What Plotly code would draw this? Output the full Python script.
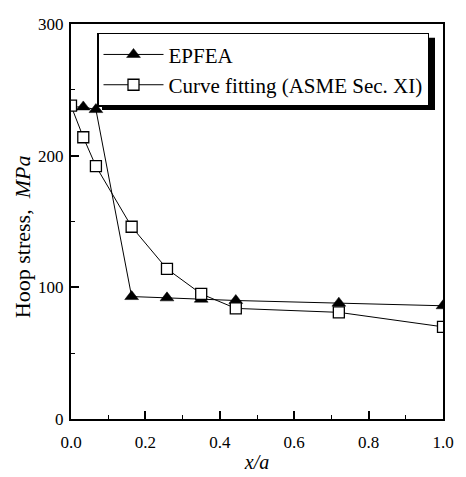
import plotly.graph_objects as go

# data
x_over_a = [0.0, 0.033, 0.067, 0.163, 0.258, 0.35, 0.443, 0.72, 1.0]
epfea = [237, 237, 235, 93, 92, 91, 90, 88, 86]
curve_fit = [238, 214, 192, 146, 114, 95, 84, 81, 70]
series_names = ["EPFEA", "Curve fitting (ASME Sec. XI)"]
x_ticks = [0.0, 0.2, 0.4, 0.6, 0.8, 1.0]
x_tick_labels = ["0.0", "0.2", "0.4", "0.6", "0.8", "1.0"]
y_ticks = [0, 100, 200, 300]

FONT = "Liberation Serif, Times New Roman, serif"

# page body has an 8px default margin; compensate (overflow is cropped)
OFF = 8
W, H = 466, 477
PLOT_LEFT, PLOT_RIGHT, PLOT_TOP, PLOT_BOTTOM = 71, 443, 15, 419
ML = PLOT_LEFT - OFF
MR = OFF + W - PLOT_RIGHT
MT = PLOT_TOP - OFF
MB = OFF + H - PLOT_BOTTOM
PW = W - ML - MR
PH = H - MT - MB

fig = go.Figure()
fig.add_trace(go.Scatter(
    x=x_over_a, y=epfea, name=series_names[0], mode="lines+markers",
    line=dict(color="black", width=1),
    marker=dict(symbol="triangle-up", size=12, color="black",
                line=dict(color="black", width=0.5)),
))
fig.add_trace(go.Scatter(
    x=x_over_a, y=curve_fit, name=series_names[1], mode="lines+markers",
    line=dict(color="black", width=1),
    marker=dict(symbol="square", size=11, color="white",
                line=dict(color="black", width=1.3)),
))

# legend placement (page pixels from the reference)
LEG_L, LEG_T, LEG_W, LEG_H = 97, 24, 333, 74
SH = 5
lx0 = (LEG_L - PLOT_LEFT) / PW
ly1 = 1 - (LEG_T - PLOT_TOP) / PH

def px2x(px):
    return (px - PLOT_LEFT) / PW

def py2y(py):
    return 1 - (py - PLOT_TOP) / PH

# legend drop shadow
fig.add_shape(type="rect", xref="paper", yref="paper",
              x0=px2x(LEG_L + SH), x1=px2x(LEG_L + LEG_W + SH),
              y0=py2y(LEG_T + LEG_H + SH), y1=py2y(LEG_T + SH),
              fillcolor="black", line=dict(width=0), layer="above")

# y-axis title as a rotated annotation
fig.add_annotation(
    text="Hoop stress,&nbsp;&nbsp;<i>MPa</i>", textangle=-90,
    xref="paper", yref="paper", x=0, y=py2y(233),
    xanchor="center", yanchor="middle", xshift=22 - PLOT_LEFT,
    showarrow=False, font=dict(family=FONT, size=22, color="black"),
)

fig.update_layout(
    width=W, height=H,
    margin=dict(l=ML, r=MR, t=MT, b=MB),
    paper_bgcolor="white", plot_bgcolor="white",
    font=dict(family=FONT, color="black", size=16),
    showlegend=True,
    legend=dict(x=lx0, y=ly1, xanchor="left", yanchor="top",
                bgcolor="white", bordercolor="black", borderwidth=1.5,
                font=dict(family=FONT, size=21, color="black"),
                tracegroupgap=0, itemwidth=60),
    xaxis=dict(
        range=[0, 1.0], tickvals=x_ticks, ticktext=x_tick_labels,
        ticks="inside", ticklen=8, tickwidth=1.5, tickcolor="black",
        minor=dict(ticks="inside", ticklen=4, dtick=0.1, tickcolor="black", tickwidth=1.2),
        showline=True, linecolor="black", linewidth=2, mirror=True,
        showgrid=False, zeroline=False, ticklabeloverflow="allow",
        tickfont=dict(family=FONT, size=17), ticklabelstandoff=7,
        title=dict(text="<i>x/a</i>", font=dict(family=FONT, size=20), standoff=4),
    ),
    yaxis=dict(
        range=[0, 300], tickvals=y_ticks,
        ticks="inside", ticklen=8, tickwidth=1.5, tickcolor="black",
        minor=dict(ticks="inside", ticklen=4, dtick=50, tickcolor="black", tickwidth=1.2),
        showline=True, linecolor="black", linewidth=2, mirror=True,
        showgrid=False, zeroline=False, ticklabeloverflow="allow",
        tickfont=dict(family=FONT, size=17), ticklabelstandoff=2,
    ),
)

fig.write_html("out.html")
